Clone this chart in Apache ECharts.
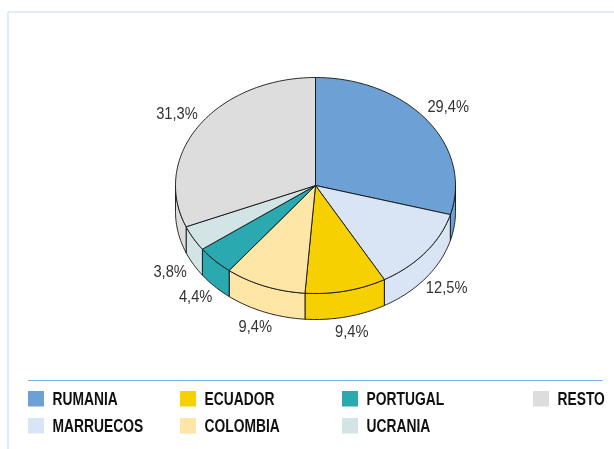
<!DOCTYPE html>
<html>
<head>
<meta charset="utf-8">
<script src="https://cdn.jsdelivr.net/npm/echarts@6/dist/echarts.min.js"></script>
<style>
  html, body { margin: 0; padding: 0; background: #fff; }
  #main { width: 614px; height: 449px; }
</style>
</head>
<body>
<div id="main"></div>
<script>
// datos
var categories = ['RUMANIA', 'MARRUECOS', 'ECUADOR', 'COLOMBIA', 'PORTUGAL', 'UCRANIA', 'RESTO'];
var shares = [29.4, 12.5, 9.4, 9.4, 4.4, 3.8, 31.3];
var shareLabels = ['29,4%', '12,5%', '9,4%', '9,4%', '4,4%', '3,8%', '31,3%'];
var colors = ['#6da1d5', '#d9e4f4', '#f6d000', '#fde6a6', '#2ba9b1', '#d3e4e6', '#dddddd'];

// leyenda: columna y fila de cada categoria
var legendCol = [0, 0, 1, 1, 2, 2, 3];
var legendRow = [0, 1, 0, 1, 0, 1, 0];
var legendLeft = [28, 180, 342, 533];
var legendTop = [391, 418];

var pie = { cx: 315.5, cy: 185.5, rx: 140, ry: 108, depth: 26 };
var font = '"Liberation Sans", Arial, sans-serif';

var total = shares.reduce(function (a, b) { return a + b; }, 0);

function pt(deg, dy) {
  var t = deg * Math.PI / 180;
  return [pie.cx + pie.rx * Math.sin(t), pie.cy - pie.ry * Math.cos(t) + (dy || 0)];
}

function arc(a, b, dy) {
  var pts = [];
  var n = Math.max(2, Math.ceil(b - a));
  for (var i = 0; i <= n; i++) pts.push(pt(a + (b - a) * i / n, dy));
  return pts;
}

function renderSlice(params, api) {
  var start = api.value(0) / total * 360;
  var end = (api.value(0) + api.value(1)) / total * 360;
  var color = api.visual('color');
  var children = [];

  // pared lateral (solo la mitad delantera)
  var s0 = Math.max(start, 90), s1 = Math.min(end, 270);
  if (s1 > s0) {
    var top = arc(s0, s1, 0);
    var bottom = arc(s0, s1, pie.depth).reverse();
    children.push({
      type: 'polygon',
      shape: { points: top.concat(bottom) },
      style: { fill: color, stroke: '#111', lineWidth: 0.9 }
    });
  }

  // cara superior
  children.push({
    type: 'polygon',
    shape: { points: [[pie.cx, pie.cy]].concat(arc(start, end, 0)) },
    style: { fill: color, stroke: '#111', lineWidth: 0.9 }
  });

  // etiqueta
  var mid = (start + end) / 2 * Math.PI / 180;
  var c = Math.cos(mid);
  var lx = pie.cx + 1.19 * pie.rx * Math.sin(mid);
  var ly = c >= 0 ? pie.cy - 1.19 * pie.ry * c : pie.cy - 1.15 * pie.ry * c + pie.depth;
  children.push({
    type: 'text',
    x: lx, y: ly,
    scaleX: 0.89,
    style: {
      text: shareLabels[params.seriesIndex],
      fill: '#333',
      font: '16.5px ' + font,
      align: 'center',
      verticalAlign: 'middle'
    }
  });

  return { type: 'group', children: children };
}

var cum = 0;
var series = categories.map(function (name, i) {
  var s = {
    name: name,
    type: 'custom',
    coordinateSystem: 'none',
    itemStyle: { color: colors[i] },
    renderItem: renderSlice,
    data: [[cum, shares[i]]]
  };
  cum += shares[i];
  return s;
});

var graphic = [
  { type: 'line', shape: { x1: 8, y1: 12, x2: 614, y2: 12 }, style: { stroke: '#d8e4f4', lineWidth: 1.5 } },
  { type: 'line', shape: { x1: 8, y1: 12, x2: 8, y2: 449 }, style: { stroke: '#d8e4f4', lineWidth: 1.5 } },
  { type: 'line', shape: { x1: 28, y1: 380.5, x2: 602.5, y2: 380.5 }, style: { stroke: '#7aaee6', lineWidth: 1.2 } }
];

categories.forEach(function (name, i) {
  var x = legendLeft[legendCol[i]];
  var y = legendTop[legendRow[i]];
  graphic.push({
    type: 'rect',
    shape: { x: x, y: y, width: 16, height: 15.5 },
    style: { fill: colors[i] }
  });
  graphic.push({
    type: 'text',
    x: x + 24.5, y: y + 9,
    scaleX: 0.79,
    style: {
      text: name,
      fill: '#111',
      font: 'bold 17.5px ' + font,
      align: 'left',
      verticalAlign: 'middle'
    }
  });
});

var chart = echarts.init(document.getElementById('main'));
chart.setOption({
  animation: false,
  graphic: graphic,
  series: series
});
</script>
</body>
</html>
